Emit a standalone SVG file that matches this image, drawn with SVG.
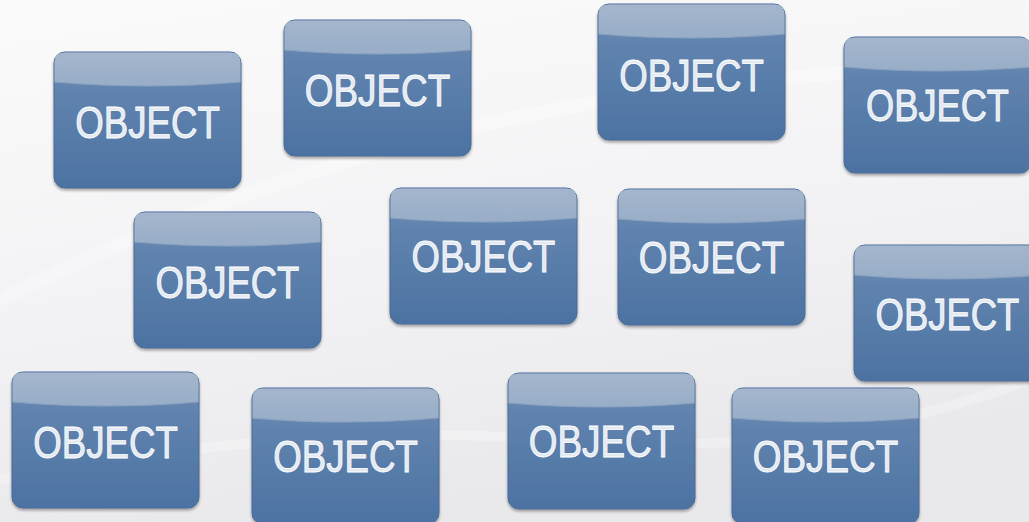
<svg xmlns="http://www.w3.org/2000/svg" xmlns:xlink="http://www.w3.org/1999/xlink" width="1029" height="522" viewBox="0 0 1029 522">
<defs>
<linearGradient id="bg" x1="0" y1="0" x2="0.3" y2="1">
<stop offset="0" stop-color="#fbfbfc"/>
<stop offset="0.6" stop-color="#f2f2f4"/>
<stop offset="1" stop-color="#e9e8eb"/>
</linearGradient>
<linearGradient id="body" x1="0" y1="0" x2="0" y2="1">
<stop offset="0" stop-color="#6f8fb8"/>
<stop offset="0.3" stop-color="#6083ae"/>
<stop offset="1" stop-color="#4c72a2"/>
</linearGradient>
<linearGradient id="band" x1="0" y1="0" x2="0" y2="1">
<stop offset="0" stop-color="#a4b6cd"/>
<stop offset="1" stop-color="#98adc7"/>
</linearGradient>
<filter id="sh" x="-10%" y="-10%" width="120%" height="125%">
<feGaussianBlur in="SourceAlpha" stdDeviation="1.5"/>
<feOffset dy="1.5"/>
<feComponentTransfer><feFuncA type="linear" slope="0.35"/></feComponentTransfer>
<feMerge><feMergeNode/><feMergeNode in="SourceGraphic"/></feMerge>
</filter>
<g id="obj">
<rect x="0" y="0" width="187" height="136" rx="11" ry="11" fill="url(#body)" stroke="#4a6b96" stroke-width="1" filter="url(#sh)"/>
<path d="M0.5,30 L0.5,11 Q0.5,0.5 11,0.5 L176,0.5 Q186.5,0.5 186.5,11 L186.5,30 Q93.5,38 0.5,30 Z" fill="url(#band)"/>
<path d="M0.5,30 Q93.5,38 186.5,30" fill="none" stroke="#8aa1bf" stroke-width="1.2"/>
</g>
</defs>
<style>
.lbl{font-family:"Liberation Sans",Arial,sans-serif;font-size:45px;fill:#e4eaf2;stroke:#ffffff;stroke-width:0.8px;text-anchor:middle;}
</style>
<rect width="1029" height="522" fill="url(#bg)"/>
<path d="M0,300 Q200,200 420,140 T1029,60" fill="none" stroke="#ffffff" stroke-width="14" opacity="0.3"/>
<path d="M0,480 Q300,420 560,440 T1029,380" fill="none" stroke="#ffffff" stroke-width="10" opacity="0.25"/>
<g id="connectors"></g>
<g id="node1" transform="translate(54,52)"><use xlink:href="#obj"/><text class="lbl" transform="translate(93.5,86) scale(0.815,1)">OBJECT</text></g>
<g id="node2" transform="translate(284,20)"><use xlink:href="#obj"/><text class="lbl" transform="translate(93.5,86) scale(0.82,1)">OBJECT</text></g>
<g id="node3" transform="translate(598,4)"><use xlink:href="#obj"/><text class="lbl" transform="translate(93.5,87) scale(0.815,1)">OBJECT</text></g>
<g id="node4" transform="translate(844,37)"><use xlink:href="#obj"/><text class="lbl" transform="translate(93.5,84) scale(0.805,1)">OBJECT</text></g>
<g id="node5" transform="translate(134,212)"><use xlink:href="#obj"/><text class="lbl" transform="translate(93.5,86) scale(0.81,1)">OBJECT</text></g>
<g id="node6" transform="translate(390,188)"><use xlink:href="#obj"/><text class="lbl" transform="translate(93.5,84) scale(0.81,1)">OBJECT</text></g>
<g id="node7" transform="translate(618,189)"><use xlink:href="#obj"/><text class="lbl" transform="translate(93.5,84) scale(0.82,1)">OBJECT</text></g>
<g id="node8" transform="translate(854,245)"><use xlink:href="#obj"/><text class="lbl" transform="translate(93.5,85) scale(0.81,1)">OBJECT</text></g>
<g id="node9" transform="translate(12,372)"><use xlink:href="#obj"/><text class="lbl" transform="translate(93.5,86) scale(0.815,1)">OBJECT</text></g>
<g id="node10" transform="translate(252,388)"><use xlink:href="#obj"/><text class="lbl" transform="translate(93.5,84) scale(0.815,1)">OBJECT</text></g>
<g id="node11" transform="translate(508,373)"><use xlink:href="#obj"/><text class="lbl" transform="translate(93.5,84) scale(0.82,1)">OBJECT</text></g>
<g id="node12" transform="translate(732,388)"><use xlink:href="#obj"/><text class="lbl" transform="translate(93.5,84) scale(0.82,1)">OBJECT</text></g>
</svg>
